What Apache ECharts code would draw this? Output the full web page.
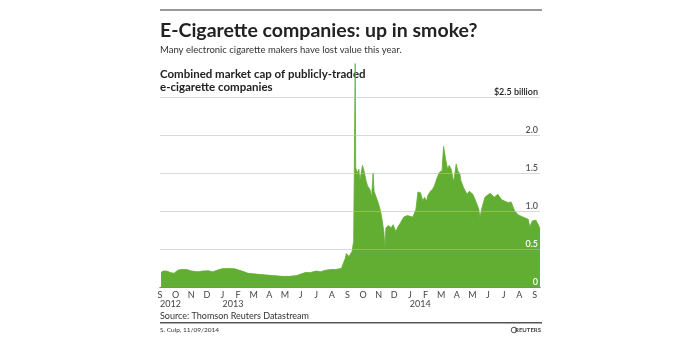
<!DOCTYPE html>
<html><head><meta charset="utf-8">
<script src="https://cdn.jsdelivr.net/npm/echarts@6/dist/echarts.min.js"></script>
<style>html,body{margin:0;padding:0;background:#fff}#c{width:692px;height:338px}</style>
</head><body><div id="c"></div>
<script>
// Combined market cap of publicly-traded e-cigarette companies ($ billion)
const dates = ['2012-09-03','2012-09-07','2012-09-14','2012-09-21','2012-09-28','2012-10-05','2012-10-12','2012-10-23','2012-11-02','2012-11-14','2012-11-23','2012-12-04','2012-12-13','2012-12-21','2012-12-31','2013-01-11','2013-01-25','2013-02-08','2013-02-19','2013-03-06','2013-03-22','2013-04-09','2013-04-26','2013-05-10','2013-05-24','2013-06-10','2013-06-20','2013-07-01','2013-07-10','2013-07-19','2013-07-30','2013-08-08','2013-08-20','2013-08-23','2013-08-28','2013-08-30','2013-09-04','2013-09-06','2013-09-10','2013-09-12','2013-09-13','2013-09-16','2013-09-17','2013-09-20','2013-09-23','2013-09-25','2013-09-30','2013-10-03','2013-10-07','2013-10-10','2013-10-15','2013-10-18','2013-10-21','2013-10-23','2013-10-25','2013-10-30','2013-11-04','2013-11-07','2013-11-11','2013-11-13','2013-11-15','2013-11-20','2013-11-25','2013-11-29','2013-12-04','2013-12-09','2013-12-13','2013-12-20','2013-12-27','2014-01-07','2014-01-13','2014-01-17','2014-01-22','2014-01-27','2014-01-30','2014-02-03','2014-02-05','2014-02-10','2014-02-14','2014-02-17','2014-02-21','2014-02-26','2014-03-03','2014-03-04','2014-03-06','2014-03-10','2014-03-14','2014-03-17','2014-03-21','2014-03-26','2014-03-31','2014-04-03','2014-04-07','2014-04-09','2014-04-14','2014-04-21','2014-04-25','2014-05-02','2014-05-09','2014-05-14','2014-05-16','2014-05-20','2014-05-26','2014-06-02','2014-06-06','2014-06-13','2014-06-20','2014-06-27','2014-07-03','2014-07-10','2014-07-16','2014-07-23','2014-07-30','2014-08-05','2014-08-12','2014-08-19','2014-08-22','2014-08-27','2014-09-03','2014-09-09','2014-09-11'];
const values = [0.19,0.21,0.21,0.19,0.18,0.22,0.23,0.23,0.21,0.20,0.21,0.215,0.20,0.22,0.24,0.245,0.24,0.21,0.18,0.17,0.16,0.15,0.14,0.14,0.15,0.19,0.19,0.21,0.20,0.22,0.23,0.23,0.245,0.26,0.38,0.44,0.40,0.42,0.47,0.56,0.60,2.94,1.57,1.50,1.55,1.40,1.60,1.53,1.40,1.33,1.28,1.18,1.50,1.26,1.24,1.13,1.02,0.91,0.73,0.52,0.78,0.81,0.78,0.82,0.73,0.80,0.84,0.92,0.94,0.92,1.02,1.25,1.24,1.13,1.18,1.13,1.20,1.26,1.29,1.33,1.42,1.51,1.53,1.66,1.85,1.68,1.55,1.60,1.55,1.38,1.62,1.53,1.49,1.40,1.31,1.22,1.26,1.22,1.11,1.02,0.91,1.04,1.18,1.22,1.23,1.18,1.22,1.15,1.13,1.11,1.12,1.00,0.95,0.93,0.91,0.89,0.79,0.87,0.88,0.80,0.76];
const monthLabels = ['S','O','N','D','J','F','M','A','M','J','J','A','S','O','N','D','J','F','M','A','M','J','J','A','S'];
const yearLabels = {0:'2012', 4:'2013', 16:'2014'};
const yTickValues = [0, 0.5, 1.0, 1.5, 2.0, 2.5];
const yTickLabels = ['0', '0.5', '1.0', '1.5', '2.0', '$2.5 billion'];

function monthOffset(s){
  const p = s.split('-').map(Number);
  const dim = new Date(p[0], p[1], 0).getDate();
  return (p[0]-2012)*12 + (p[1]-9) + (p[2]-1)/dim;
}
const xmax = monthOffset(dates[dates.length-1]);
const seriesData = dates.map((d,i)=>[monthOffset(d), values[i]]);
const GREEN = '#62ae33';
const FONT = 'Lato';

const chart = echarts.init(document.getElementById('c'), null, {renderer:'canvas'});
chart.setOption({
  animation:false,
  backgroundColor:'#fff',
  grid:{left:160, right:152, top:97, bottom:51},
  xAxis:[{
    type:'value', min:0, max:xmax, interval:1,
    axisLine:{show:true, lineStyle:{color:'#444', width:1}},
    axisTick:{show:false}, splitLine:{show:false},
    axisLabel:{fontFamily:FONT, fontSize:9, color:'#444', margin:4,
      formatter:v=>Number.isInteger(v)?monthLabels[v]:''}
  },{
    type:'value', min:-0.2, max:xmax-0.2, interval:1, position:'bottom',
    axisLine:{show:false}, axisTick:{show:false}, splitLine:{show:false},
    axisLabel:{fontFamily:FONT, fontSize:9, color:'#444', margin:13, align:'left',
      formatter:v=>{const k=Math.round(v+0.2); return yearLabels[k]||'';}}
  }],
  yAxis:{
    type:'value', min:0, max:2.5, interval:0.5, position:'right', z:5,
    axisLine:{show:false}, axisTick:{show:false},
    splitLine:{lineStyle:{color:'rgba(185,185,185,0.55)', width:1}},
    axisLabel:{inside:true, margin:2, verticalAlign:'bottom', fontFamily:FONT, fontSize:9,
      color:(v)=> (+v <= 0.5 ? '#ffffff' : (+v===2.5 ? '#222' : '#555')),
      fontWeight:600,
      formatter:v=>{const i=yTickValues.findIndex(t=>Math.abs(t-v)<1e-9); return i>=0?yTickLabels[i]:'';}}
  },
  series:[{
    type:'line', data:seriesData, xAxisIndex:0, symbol:'none', clip:false,
    lineStyle:{width:0.8, color:GREEN}, areaStyle:{color:GREEN, opacity:1}, z:2
  }],
  graphic:[
    {type:'rect', shape:{x:160, y:9, width:382, height:2}, style:{fill:'#999'}},
    {type:'text', x:160, y:31, style:{text:'E-Cigarette companies: up in smoke?', font:'bold 19.5px '+FONT, fill:'#222', verticalAlign:'middle'}},
    {type:'text', x:160, y:50, style:{text:'Many electronic cigarette makers have lost value this year.', font:'9.5px '+FONT, fill:'#333', verticalAlign:'middle'}},
    {type:'text', x:160, y:74, style:{text:'Combined market cap of publicly-traded', font:'bold 11.5px '+FONT, fill:'#222', verticalAlign:'middle'}},
    {type:'text', x:160, y:87, style:{text:'e-cigarette companies', font:'bold 11.5px '+FONT, fill:'#222', verticalAlign:'middle'}},
    {type:'text', x:160, y:316, style:{text:'Source: Thomson Reuters Datastream', font:'9px '+FONT, fill:'#333', verticalAlign:'middle'}},
    {type:'rect', shape:{x:160, y:322, width:382, height:1.5}, style:{fill:'#555'}},
    {type:'text', x:160, y:330, style:{text:'S. Culp, 11/09/2014', font:'6.5px '+FONT, fill:'#333', verticalAlign:'middle'}},
    {type:'circle', shape:{cx:514, cy:330, r:2.8}, style:{fill:'none', stroke:'#555', lineWidth:1}},
    {type:'text', x:541, y:330, style:{text:'REUTERS', font:'bold 6px '+FONT, fill:'#444', align:'right', verticalAlign:'middle'}}
  ]
});
</script>
</body></html>
